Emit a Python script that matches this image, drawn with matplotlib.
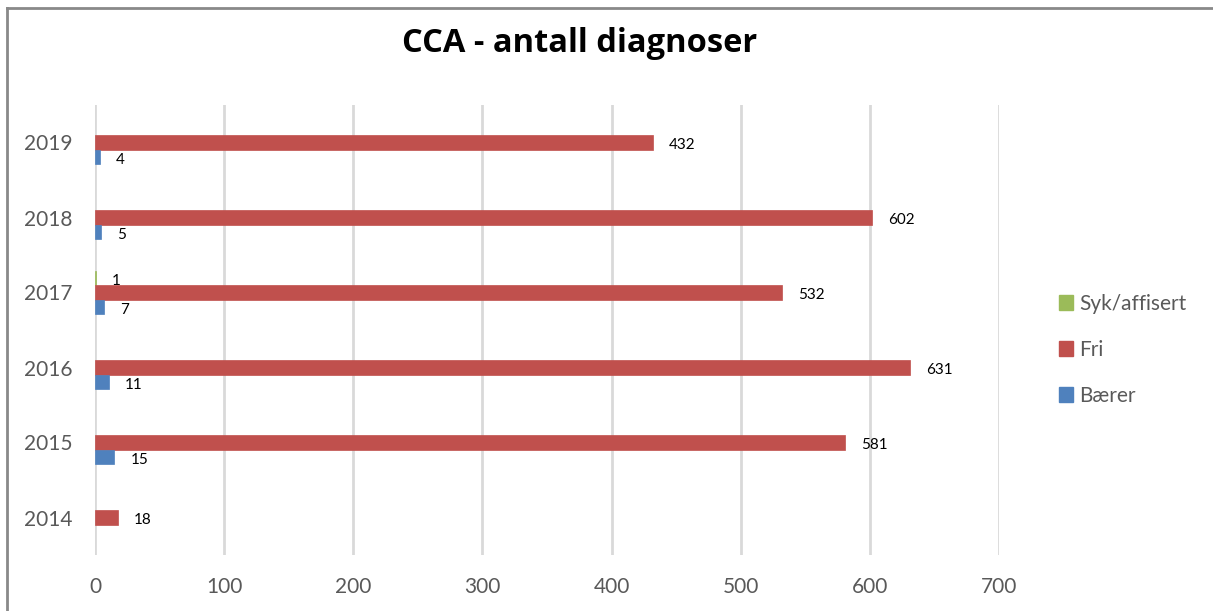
import matplotlib
matplotlib.use("Agg")
import matplotlib.pyplot as plt
from matplotlib.lines import Line2D
from matplotlib.patches import Patch

years = ["2014", "2015", "2016", "2017", "2018", "2019"]
syk = [0, 0, 0, 1, 0, 0]
fri = [18, 581, 631, 532, 602, 432]
baerer = [0, 15, 11, 7, 5, 4]

series_names = ["Syk/affisert", "Fri", "Bærer"]
colors = ["#9BBB59", "#C0504D", "#4F81BD"]
title = "CCA - antall diagnoser"
xticks = [0, 100, 200, 300, 400, 500, 600, 700]

plt.rcParams['font.family'] = ['Lato', 'DejaVu Sans']

W, H = 1213, 611
fig = plt.figure(figsize=(W / 100, H / 100), dpi=100)
fig.patch.set_facecolor("white")

ax = fig.add_axes([95 / W, 1 - 555 / H, (999 - 95) / W, (555 - 105) / H])

h = 0.193
ypos = list(range(len(years)))
offsets = [h, 0, -h]
for vals, off, col in zip([syk, fri, baerer], offsets, colors):
    ys = [y + off for y, v in zip(ypos, vals) if v > 0]
    vs = [v for v in vals if v > 0]
    ax.barh(ys, vs, height=h, color=col, edgecolor=col, linewidth=0.5, zorder=3)
    for y, v in zip(ys, vs):
        ax.annotate(str(v), xy=(v, y), xytext=(11.5, -2), textcoords="offset points",
                    fontsize=11, va="center", ha="left", color="black")

ax.set_xlim(0, 700)
ax.set_ylim(-0.5, len(years) - 0.5)
ax.set_xticks(xticks)
ax.set_xticklabels([str(t) for t in xticks])
ax.set_yticks(ypos)
ax.set_yticklabels(years)
ax.tick_params(axis="both", length=0, labelsize=15, labelcolor="#595959")
ax.tick_params(axis="y", pad=16)
ax.tick_params(axis="x", pad=16)
for s in ax.spines.values():
    s.set_visible(False)
ax.grid(axis="x", color="#D9D9D9", linewidth=2, zorder=0)
ax.set_axisbelow(True)

fig.text(580 / W, 1 - 44 / H, title, ha="center", va="center", fontsize=23.5,
         fontweight="bold", color="black", family=["Open Sans", "DejaVu Sans"])

handles = [Patch(facecolor=c, edgecolor=c) for c in colors]
leg = fig.legend(handles, series_names, loc="upper left",
                 bbox_to_anchor=(1040 / W, 1 - 275 / H), frameon=False,
                 fontsize=15, labelcolor="#595959", handlelength=0.7,
                 handleheight=0.7, handletextpad=0.3, labelspacing=1.25)

# chart border (top and left visible; right/bottom cut off)
fig.add_artist(Line2D([7 / W, 1.0], [1 - 8 / H, 1 - 8 / H], transform=fig.transFigure,
                      color="#898989", linewidth=2))
fig.add_artist(Line2D([7 / W, 7 / W], [1 - 8 / H, 0.0], transform=fig.transFigure,
                      color="#898989", linewidth=2))

fig.savefig("out.png", dpi=100)
